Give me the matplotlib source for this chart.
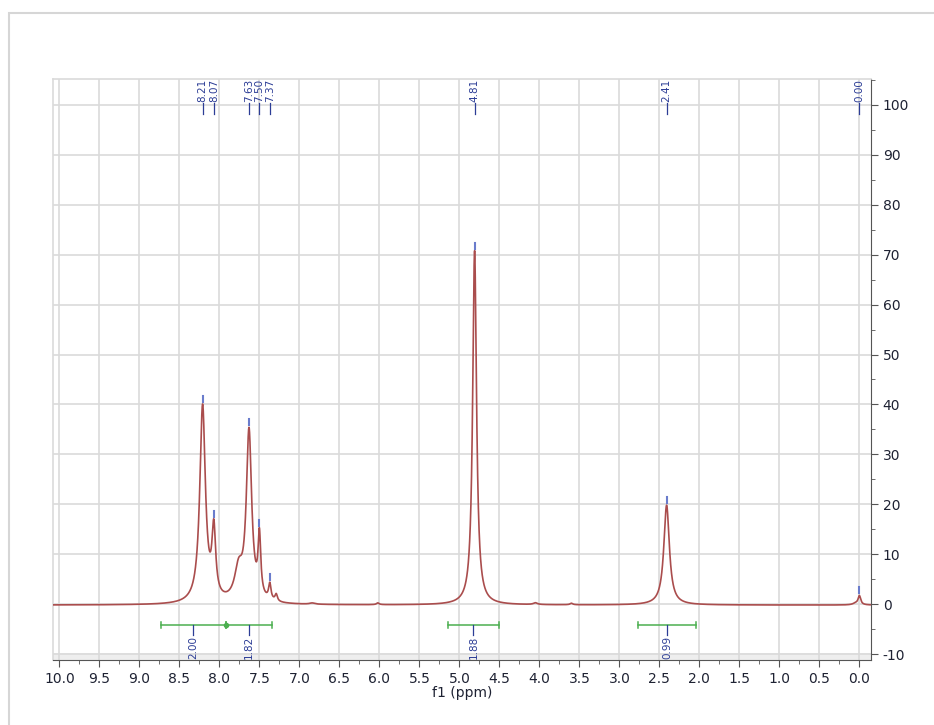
import matplotlib.pyplot as plt
import matplotlib.patches as mpatches
import numpy as np
from matplotlib.ticker import MultipleLocator

# peak list (ppm, height, half-width in ppm)
peak_ppm = [8.21, 8.07, 7.76, 7.63, 7.50, 7.37, 7.29, 4.81, 2.41, 0.00, 6.84, 6.02, 4.05, 3.60, 0.05]
peak_height = [39.5, 13.5, 6.0, 34.0, 12.0, 3.2, 1.4, 71.0, 20.0, 1.8, 0.25, 0.35, 0.35, 0.3, 0.3]
peak_hw = [0.042, 0.028, 0.06, 0.04, 0.02, 0.018, 0.018, 0.029, 0.042, 0.02, 0.04, 0.02, 0.03, 0.02, 0.04]

# labels at the top
label_ppm = [8.21, 8.07, 7.63, 7.50, 7.37, 4.81, 2.41, 0.00]
label_txt = ["8.21", "8.07", "7.63", "7.50", "7.37", "4.81", "2.41", "0.00"]

# integrals (start, end, value)
int_start = [8.73, 7.92, 5.14, 2.77]
int_end = [7.92, 7.34, 4.51, 2.04]
int_value = ["2.00", "1.82", "1.88", "0.99"]

LINE_C = "#aa4d4d"
LABEL_C = "#2c3d96"
TICK_C = "#6a7ccc"
INT_C = "#4caf50"
GRID_C = "#dadada"
TXT_C = "#1e2233"

x = np.linspace(10.2, -0.2, 8000)
y = np.zeros_like(x)
for p, h, w in zip(peak_ppm, peak_height, peak_hw):
    y += h / (1 + ((x - p) / w) ** 2)
y -= 0.2

fig = plt.figure(figsize=(9.34, 7.25), dpi=100)
fig.patches.append(mpatches.Rectangle((8.5 / 934, -0.02), 1.0, 1 - 12.5 / 725 + 0.02,
                                      transform=fig.transFigure, fill=False,
                                      edgecolor="#d6d6d6", lw=1.5))
ax = fig.add_axes([53 / 934, 1 - 660 / 725, (871 - 53) / 934, (660 - 79) / 725])

ax.set_xlim(10.08, -0.145)
ax.set_ylim(-11.2, 105.2)
ax.grid(True, color=GRID_C, lw=1.2)
ax.set_axisbelow(True)
ax.xaxis.set_major_locator(MultipleLocator(0.5))
ax.xaxis.set_minor_locator(MultipleLocator(0.25))
ax.yaxis.set_major_locator(MultipleLocator(10))
ax.yaxis.set_minor_locator(MultipleLocator(5))
ax.axhspan(-11.2, -9.7, color="#eeeeee", zorder=0.5, lw=0)

ax.yaxis.tick_right()
for s in ["top", "left"]:
    ax.spines[s].set_color(GRID_C)
    ax.spines[s].set_linewidth(1.2)
ax.spines["bottom"].set_color("#555555")
ax.spines["right"].set_color("#555555")
ax.tick_params(axis="both", which="major", length=5, color="#555555",
               labelsize=10, labelcolor=TXT_C)
ax.tick_params(axis="both", which="minor", length=3, color="#555555")
ax.xaxis.set_major_formatter(plt.FuncFormatter(lambda v, _: f"{v:.1f}"))
ax.yaxis.set_major_formatter(plt.FuncFormatter(lambda v, _: f"{v:.0f}"))
ax.set_xlabel("f1 (ppm)", fontsize=10, color=TXT_C, labelpad=0)

ax.plot(x, y, color=LINE_C, lw=1.2, zorder=3)

# peak markers and top labels
for p, t in zip(label_ppm, label_txt):
    top = np.interp(p, x[::-1], y[::-1])
    ax.plot([p, p], [top + 0.4, top + 1.6], color=TICK_C, lw=1.5, zorder=4)
    ax.plot([p, p], [98.2, 100.4], color=LABEL_C, lw=0.9, zorder=4)
    ax.text(p, 100.5, t, rotation=90, ha="center", va="bottom", fontsize=7.5,
            color=LABEL_C, zorder=4)

# integrals
iy = -4.2
for s, e in zip(int_start, int_end):
    ax.plot([s, e], [iy, iy], color=INT_C, lw=1.1, zorder=4)
    for xe in (s, e):
        ax.plot([xe, xe], [iy - 0.6, iy + 0.6], color=INT_C, lw=1.1, zorder=4)
ax.plot([7.92], [iy], "o", color=INT_C, ms=3, zorder=4)
for s, e, v in zip(int_start, int_end, int_value):
    m = (s + e) / 2
    ax.plot([m, m], [iy, iy - 2.0], color=LABEL_C, lw=0.9, zorder=4)
    ax.text(m, iy - 2.1, v, rotation=90, ha="center", va="top", fontsize=7.5,
            color=LABEL_C, zorder=4)

fig.savefig("out.png", dpi=100, facecolor="white")
